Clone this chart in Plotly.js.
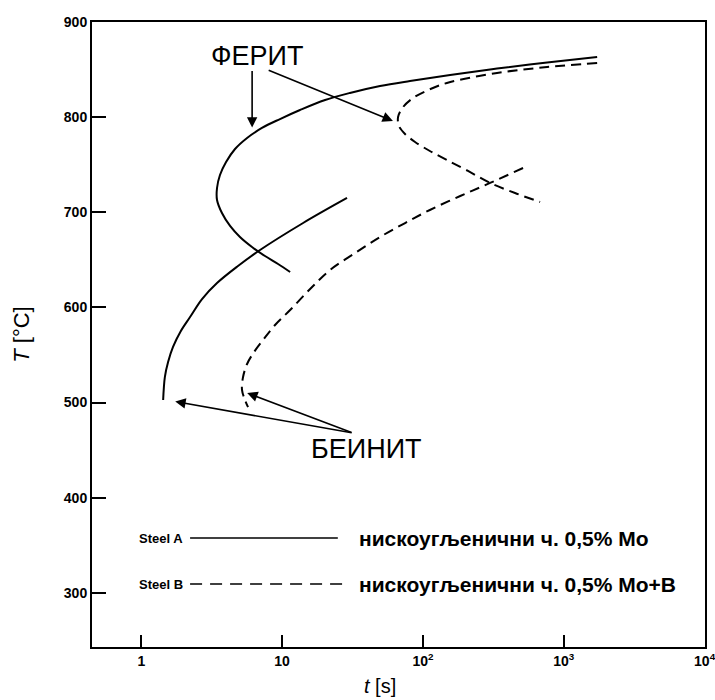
<!DOCTYPE html>
<html>
<head>
<meta charset="utf-8">
<script src="https://cdn.plot.ly/plotly-3.0.1.min.js"></script>
<style>html,body{margin:0;padding:0;background:#fff;}#chart{width:715px;height:700px;}</style>
</head>
<body>
<div id="chart"></div>
<script>
// Steel A (solid) – ferrite C-curve
const ferA_t = [1726, 762, 336, 156, 80.9, 49.6, 30.3, 20.2, 13.4, 9.66, 7.19, 5.64, 4.63, 4.0, 3.62, 3.45, 3.45, 3.74, 4.27, 5.02, 6.11, 7.56, 9.36, 11.4];
const ferA_T = [863.2, 857.4, 851.1, 844.3, 838, 832.7, 825.4, 818, 807.5, 798, 788.6, 778.1, 766.5, 752.8, 739.2, 725.5, 712.9, 699.2, 685.6, 674, 663.5, 654, 645.6, 637.2];
// Steel A (solid) – bainite curve
const baiA_t = [28.9, 14.1, 6.97, 4.86, 3.45, 2.70, 2.22, 1.91, 1.68, 1.55, 1.47, 1.43];
const baiA_T = [715, 688.7, 660.3, 643.5, 625.6, 608.8, 589.9, 575.2, 558.4, 542.6, 526.8, 502.6];
// Steel B (dashed) – ferrite C-curve
const ferB_t = [1726, 762, 336, 148, 109, 85.1, 72.3, 66.6, 67.6, 74.6, 87.9, 112, 148, 209, 300, 451, 679];
const ferB_T = [856.9, 852.7, 846.4, 835.9, 828.5, 820.1, 810.6, 800.1, 790.7, 782.3, 773.9, 764.4, 754.9, 743.4, 730.8, 720.2, 710.8];
// Steel B (dashed) – bainite curve
const baiB_t = [514, 300, 184, 112, 74.7, 49.6, 33.0, 21.9, 15.8, 11.4, 8.91, 7.32, 6.32, 5.64, 5.28, 5.19, 5.45, 5.73];
const baiB_T = [746.5, 730.8, 717.1, 702.4, 688.7, 674, 657.2, 639.3, 619.3, 597.2, 581.5, 565.7, 553.1, 540.5, 526.8, 513.2, 502.6, 495.2];

const xTickVals = [1, 10, 100, 1000, 10000];
const xTickText = ["1", "10", "10<sup>2</sup>", "10<sup>3</sup>", "10<sup>4</sup>"];
const yTickVals = [300, 400, 500, 600, 700, 800, 900];

const labelFerrite = "ФЕРИТ";
const labelBainite = "БЕИНИТ";
const legendA = "Steel A";
const legendB = "Steel B";
const descA = "нискоугљенични ч. 0,5% Mo";
const descB = "нискоугљенични ч. 0,5% Mo+B";

const ink = "#000";
const solid = {color: ink, width: 2, shape: "spline", smoothing: 1.0};
const dashed = {color: ink, width: 2, dash: "10px,6px", shape: "spline", smoothing: 1.0};

const traces = [
  {x: ferA_t, y: ferA_T, mode: "lines", line: solid, name: "A ferrite", hoverinfo: "skip"},
  {x: baiA_t, y: baiA_T, mode: "lines", line: solid, name: "A bainite", hoverinfo: "skip"},
  {x: ferB_t, y: ferB_T, mode: "lines", line: dashed, name: "B ferrite", hoverinfo: "skip"},
  {x: baiB_t, y: baiB_T, mode: "lines", line: dashed, name: "B bainite", hoverinfo: "skip"}
];

const fam = "Liberation Sans, Arial, sans-serif";
const tickFont = {family: fam, size: 14, color: ink, weight: "bold"};
const bigFont = {family: fam, size: 27, color: ink};
const legFont = {family: fam, size: 21, color: ink, weight: "bold"};
const smallFont = {family: fam, size: 13, color: ink, weight: "bold"};

function arrow(tail, tip) {
  return {x: tip[0], y: tip[1], ax: tail[0], ay: tail[1], xref: "x", yref: "y", axref: "x", ayref: "y",
    text: "", showarrow: true, arrowhead: 2, arrowsize: 1.3, arrowwidth: 1.6, arrowcolor: ink};
}

const annotations = [
  {x: 0.823, y: 864, xref: "x", yref: "y", text: labelFerrite, showarrow: false, font: bigFont},
  arrow([0.787, 850], [0.787, 789]),
  arrow([0.894, 850], [1.787, 796]),
  {x: 1.596, y: 451, xref: "x", yref: "y", text: labelBainite, showarrow: false, font: bigFont},
  arrow([1.504, 468], [0.241, 501]),
  arrow([1.504, 468], [0.752, 510]),
  {x: 0.0734, y: 0.1744, xref: "paper", yref: "paper", xanchor: "left", yanchor: "middle", text: legendA, showarrow: false, font: smallFont},
  {x: 0.0734, y: 0.1008, xref: "paper", yref: "paper", xanchor: "left", yanchor: "middle", text: legendB, showarrow: false, font: smallFont},
  {x: 0.432, y: 0.1744, xref: "paper", yref: "paper", xanchor: "left", yanchor: "middle", text: descA, showarrow: false, font: legFont},
  {x: 0.432, y: 0.1008, xref: "paper", yref: "paper", xanchor: "left", yanchor: "middle", text: descB, showarrow: false, font: legFont},
  {x: 0.47, y: 0, xref: "paper", yref: "paper", xanchor: "center", yanchor: "top", yshift: -26, text: "<i>t</i> [s]", showarrow: false, font: {family: fam, size: 20, color: ink}}
];

const shapes = [
  {type: "line", xref: "paper", yref: "paper", x0: 0.160, x1: 0.401, y0: 0.1744, y1: 0.1744, line: {color: ink, width: 1.5}},
  {type: "line", xref: "paper", yref: "paper", x0: 0.160, x1: 0.413, y0: 0.1008, y1: 0.1008, line: {color: ink, width: 1.5, dash: "12px,8px"}}
];

const layout = {
  width: 715, height: 700,
  margin: {l: 92, r: 10, t: 22, b: 53},
  paper_bgcolor: "#fff", plot_bgcolor: "#fff",
  showlegend: false,
  xaxis: {
    type: "log", range: [-0.35, 4.003],
    tickvals: xTickVals, ticktext: xTickText,
    ticks: "inside", ticklen: 12, tickwidth: 2, tickcolor: ink,
    showline: true, linewidth: 2, linecolor: ink, mirror: true,
    showgrid: false, zeroline: false,
    ticklabeloverflow: "allow",
    tickfont: tickFont
  },
  yaxis: {
    range: [243, 900],
    tickvals: yTickVals,
    ticks: "inside", ticklen: 14, tickwidth: 2, tickcolor: ink,
    showline: true, linewidth: 2, linecolor: ink, mirror: true,
    showgrid: false, zeroline: false,
    tickfont: tickFont,
    title: {text: "<i>T</i> [°C]", font: {family: fam, size: 22, color: ink}, standoff: 28}
  },
  annotations: annotations,
  shapes: shapes
};

Plotly.newPlot("chart", traces, layout, {displayModeBar: false, staticPlot: true});
</script>
</body>
</html>
